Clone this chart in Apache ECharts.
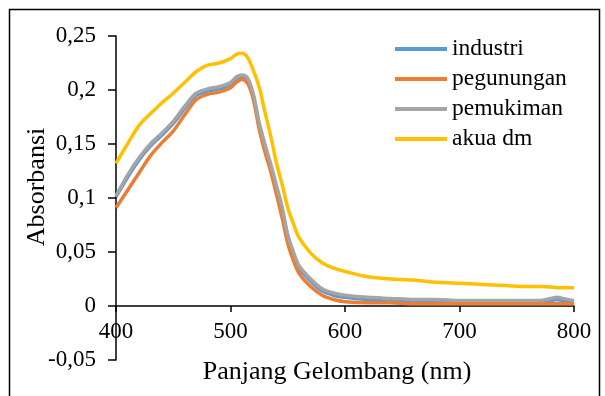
<!DOCTYPE html>
<html>
<head>
<meta charset="utf-8">
<script src="https://cdn.jsdelivr.net/npm/echarts@6/dist/echarts.min.js"></script>
<style>
  html, body { margin: 0; padding: 0; background: #fff; }
  #chart { width: 605px; height: 396px; }
</style>
</head>
<body>
<div id="chart"></div>
<script>
// panjang gelombang (nm)
const wavelengths = [400, 410, 420, 430, 440, 450, 460, 470, 480, 490, 500, 505, 510, 515, 520, 525, 530, 535, 540, 545, 550, 555, 560, 570, 580, 590, 600, 620, 640, 660, 680, 700, 720, 740, 760, 770, 780, 785, 790, 800];

const industri   = [0.101, 0.119, 0.135, 0.148, 0.158, 0.169, 0.183, 0.195, 0.199, 0.201, 0.205, 0.210, 0.212, 0.209, 0.194, 0.168, 0.148, 0.130, 0.110, 0.090, 0.064, 0.048, 0.035, 0.023, 0.014, 0.010, 0.008, 0.006, 0.005, 0.005, 0.004, 0.004, 0.004, 0.004, 0.004, 0.004, 0.005, 0.006, 0.005, 0.004];
const pegunungan = [0.091, 0.107, 0.123, 0.139, 0.151, 0.162, 0.177, 0.191, 0.196, 0.198, 0.202, 0.207, 0.210, 0.206, 0.191, 0.164, 0.143, 0.125, 0.104, 0.082, 0.058, 0.042, 0.030, 0.018, 0.010, 0.006, 0.004, 0.003, 0.003, 0.002, 0.002, 0.002, 0.002, 0.002, 0.002, 0.002, 0.002, 0.002, 0.002, 0.002];
const pemukiman  = [0.102, 0.121, 0.137, 0.150, 0.160, 0.171, 0.185, 0.197, 0.201, 0.203, 0.207, 0.212, 0.214, 0.211, 0.196, 0.170, 0.150, 0.132, 0.112, 0.092, 0.066, 0.050, 0.037, 0.025, 0.016, 0.012, 0.010, 0.008, 0.007, 0.006, 0.006, 0.005, 0.005, 0.005, 0.005, 0.005, 0.007, 0.008, 0.007, 0.005];
const akuaDm     = [0.132, 0.150, 0.167, 0.178, 0.188, 0.197, 0.207, 0.217, 0.223, 0.225, 0.229, 0.233, 0.234, 0.230, 0.218, 0.203, 0.180, 0.158, 0.133, 0.113, 0.091, 0.076, 0.063, 0.049, 0.040, 0.035, 0.032, 0.027, 0.025, 0.024, 0.022, 0.021, 0.020, 0.019, 0.018, 0.018, 0.0175, 0.017, 0.017, 0.017];

const seriesNames = ['industri', 'pegunungan', 'pemukiman', 'akua dm'];
const seriesColors = ['#5B9BD5', '#ED7D31', '#A5A5A5', '#FFC000'];
const seriesValues = [industri, pegunungan, pemukiman, akuaDm];

const font = 'Liberation Serif';

const chart = echarts.init(document.getElementById('chart'));

const option = {
  animation: false,
  textStyle: { fontFamily: font, color: '#000' },
  graphic: [{
    type: 'rect',
    shape: { x: 9.5, y: 9.5, width: 590, height: 400 },
    style: { fill: 'none', stroke: '#000', lineWidth: 1.5 },
    silent: true
  }],
  grid: { left: 116, right: 31, top: 36, bottom: 36, outerBoundsMode: 'none' },
  legend: {
    orient: 'vertical',
    left: 390,
    top: 32,
    icon: 'rect',
    itemWidth: 52,
    itemHeight: 4,
    itemGap: 6,
    data: seriesNames,
    textStyle: { fontFamily: font, fontSize: 23.5, color: '#000' }
  },
  xAxis: {
    type: 'value',
    min: 400,
    max: 800,
    interval: 100,
    offset: -54, // axis crosses at y = 0
    name: 'Panjang Gelombang (nm)',
    nameLocation: 'middle',
    nameGap: 53,
    nameMoveOverlap: false,
    nameTextStyle: { fontFamily: font, fontSize: 26, color: '#000', padding: [0, 16, 0, 0] },
    axisLine: { onZero: false, lineStyle: { color: '#000', width: 1.5 } },
    axisTick: { show: true, length: 6, lineStyle: { color: '#000', width: 1.5 } },
    axisLabel: { fontFamily: font, fontSize: 23, color: '#000', margin: 14 },
    splitLine: { show: false }
  },
  yAxis: {
    type: 'value',
    min: -0.05,
    max: 0.25,
    interval: 0.05,
    name: 'Absorbansi',
    nameLocation: 'middle',
    nameGap: 66,
    nameMoveOverlap: false,
    nameTextStyle: { fontFamily: font, fontSize: 26, color: '#000', padding: [0, 0, 0, 22] },
    axisLine: { show: true, lineStyle: { color: '#000', width: 1.5 } },
    axisTick: { show: true, length: 8, lineStyle: { color: '#000', width: 1.5 } },
    axisLabel: {
      fontFamily: font, fontSize: 23, color: '#000', margin: 20,
      formatter: v => String(+v.toFixed(2)).replace('.', ',')
    },
    splitLine: { show: false }
  },
  series: seriesNames.map((name, i) => ({
    name: name,
    type: 'line',
    showSymbol: false,
    smooth: 0.3,
    color: seriesColors[i],
    lineStyle: { width: 3.5, color: seriesColors[i] },
    data: wavelengths.map((w, k) => [w, seriesValues[i][k]])
  }))
};

chart.setOption(option);
</script>
</body>
</html>
